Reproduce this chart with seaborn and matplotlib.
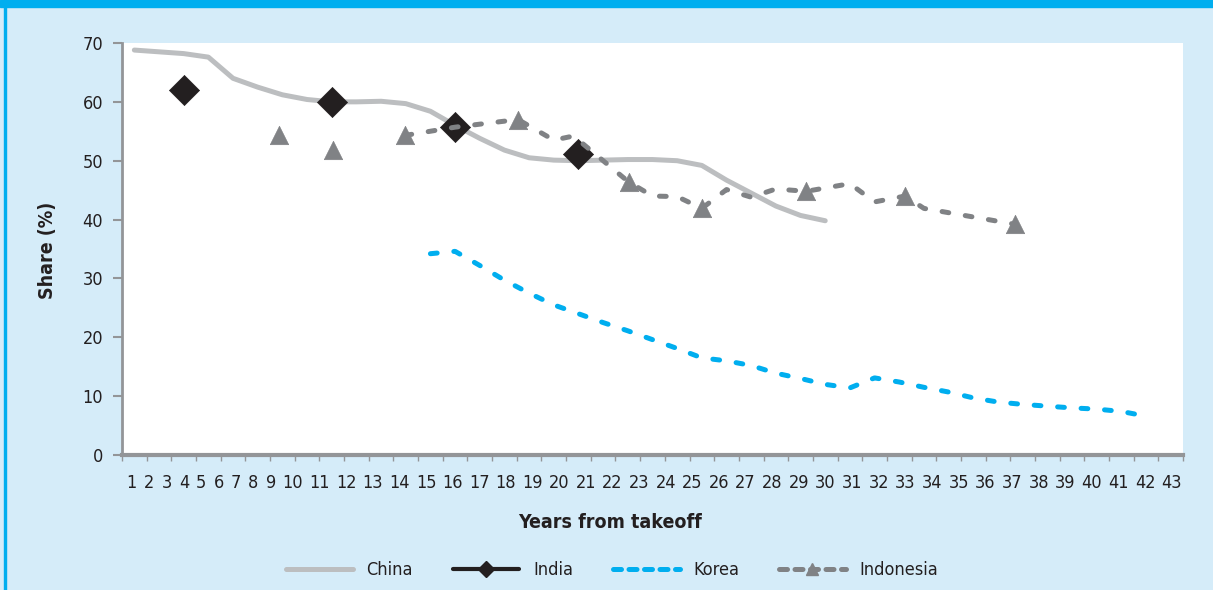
import numpy as np
import pandas as pd
import matplotlib
matplotlib.use("Agg")
import matplotlib.pyplot as plt
from matplotlib.lines import Line2D
from matplotlib.patches import Rectangle
import seaborn as sns

# Share of agriculture in employment (%), by years from takeoff
china_years = list(range(1, 30))
china_share = [68.8, 68.5, 68.2, 67.6, 64.0, 62.5, 61.2, 60.4, 60.0, 60.0,
               60.1, 59.7, 58.4, 56.0, 53.8, 51.8, 50.5, 50.1, 50.0, 50.1,
               50.2, 50.2, 50.0, 49.2, 46.7, 44.5, 42.3, 40.7, 39.8]

india_years = [3, 9, 14, 19]
india_share = [62.0, 59.9, 55.8, 51.1]

korea_years = list(range(13, 43))
korea_share = [34.2, 34.6, 32.2, 29.7, 27.5, 25.5, 24.0, 22.5, 21.1, 19.6,
               18.1, 16.5, 16.0, 15.2, 13.9, 13.0, 12.0, 11.4, 13.1, 12.4,
               11.5, 10.7, 9.7, 9.0, 8.6, 8.3, 8.0, 7.8, 7.4, 6.6]

indonesia_years = [6.85, 9.07, 11.97, 14.0, 16.55, 18.0, 18.8, 21.03, 22.0, 23.0,
                   24.0, 25.0, 26.0, 27.0, 28.23, 30.0, 31.0, 32.24, 33.0, 36.7]
indonesia_share = [54.3, 51.9, 54.3, 55.7, 57.0, 53.5, 54.2, 46.4, 44.0, 43.9,
                   41.9, 45.1, 43.8, 45.2, 44.8, 46.1, 43.0, 44.0, 41.9, 39.2]
# survey points shown with a marker
indonesia_marked = [1, 1, 1, 0, 1, 0, 0, 1, 0, 0,
                    1, 0, 0, 0, 1, 0, 0, 1, 0, 1]
# whether a point is joined to the previous one (early surveys stand alone)
indonesia_joined = [0, 0, 0, 1, 1, 1, 1, 1, 1, 1,
                    1, 1, 1, 1, 1, 1, 1, 1, 1, 1]

x_labels = [str(i) for i in range(1, 44)]
y_ticks = [0, 10, 20, 30, 40, 50, 60, 70]

series_names = ["China", "India", "Korea", "Indonesia"]

# ---------------------------------------------------------------- style
BG = "#D5ECF9"
FRAME = "#00AEEF"
AXIS_GREY = "#939598"
TEXT = "#231F20"
C_CHINA = "#BCBEC0"
C_INDIA = "#231F20"
C_KOREA = "#00AEEF"
C_INDO = "#808285"
DASH = (1.35, 3.35)

sns.set_theme(style="white")
plt.rcParams["font.family"] = ["DejaVu Sans"]
plt.rcParams["font.stretch"] = "condensed"
plt.rcParams["text.color"] = TEXT

fig = plt.figure(figsize=(12.13, 5.90), dpi=100, facecolor=BG)
ax = fig.add_axes([122 / 1213, 1 - 455 / 590, 1061 / 1213, 412 / 590])
ax.set_facecolor("white")

# frame decoration: thick band on top, thin rule on the left
fig.patches.append(Rectangle((0, 1 - 7 / 590), 1, 7 / 590, transform=fig.transFigure,
                             color=FRAME, zorder=0))
fig.patches.append(Rectangle((4 / 1213, 0), 2 / 1213, 1, transform=fig.transFigure,
                             color=FRAME, zorder=0))

# ---------------------------------------------------------------- data frames
china = pd.DataFrame({"year": china_years, "share": china_share})
india = pd.DataFrame({"year": india_years, "share": india_share})
korea = pd.DataFrame({"year": korea_years, "share": korea_share})
indo = pd.DataFrame({"year": indonesia_years, "share": indonesia_share,
                     "marked": indonesia_marked, "joined": indonesia_joined})
indo["run"] = (indo["joined"] == 0).cumsum()

# ---------------------------------------------------------------- series
sns.lineplot(data=china, x="year", y="share", color=C_CHINA, linewidth=3.6,
             estimator=None, sort=False, ax=ax, zorder=2,
             solid_capstyle="round", solid_joinstyle="round")

sns.scatterplot(data=india, x="year", y="share", marker="D", s=235,
                color=C_INDIA, edgecolor=C_INDIA, linewidth=0.5, ax=ax, zorder=3)

sns.lineplot(data=korea, x="year", y="share", color=C_KOREA, linewidth=3.6,
             estimator=None, sort=False, ax=ax, zorder=2)
ax.lines[-1].set_dashes(DASH)
ax.lines[-1].set_dash_capstyle("round")

for run_id, run in indo.groupby("run"):
    if len(run) > 1:
        sns.lineplot(data=run, x="year", y="share", color=C_INDO, linewidth=3.6,
                     estimator=None, sort=False, ax=ax, zorder=4)
        ax.lines[-1].set_dashes(DASH)
        ax.lines[-1].set_dash_capstyle("round")

sns.scatterplot(data=indo[indo["marked"] == 1], x="year", y="share", marker="^",
                s=175, color=C_INDO, edgecolor=C_INDO, linewidth=0.5, ax=ax, zorder=5)

# ---------------------------------------------------------------- axes
ax.set_xlim(0.5, 43.5)
ax.set_ylim(0, 70)
ax.set_xlabel("")
ax.set_ylabel("")

# category labels are set as one justified line of text
widths = np.array([len(s) for s in x_labels], dtype=float)
gap = 0.874
left_edges = np.concatenate([[0.0], np.cumsum(widths + gap)[:-1]])
centers = left_edges + widths / 2
label_pos = 0.9 + (centers - centers[0]) * (43.05 - 0.9) / (centers[-1] - centers[0])
ax.set_xticks(label_pos)
ax.set_xticklabels(x_labels)
ax.set_xticks(np.arange(0.5, 44, 1.0), minor=True)
ax.tick_params(axis="x", which="major", length=0, pad=14, labelsize=13, labelcolor=TEXT)
ax.tick_params(axis="x", which="minor", bottom=True, length=4, width=1.0,
               color=AXIS_GREY, direction="out")

ax.set_yticks(y_ticks)
ax.tick_params(axis="y", which="major", left=True, length=6.5, width=1.5,
               color=AXIS_GREY, pad=7, labelsize=13, labelcolor=TEXT, direction="out")

for side in ("top", "right"):
    ax.spines[side].set_visible(False)
ax.spines["left"].set_color(AXIS_GREY)
ax.spines["left"].set_linewidth(2.0)
ax.spines["bottom"].set_color(AXIS_GREY)
ax.spines["bottom"].set_linewidth(3.0)
ax.grid(False)

fig.text(47 / 1213, 1 - 250 / 590, "Share (%)", rotation=90, ha="center", va="center",
         fontsize=14, fontweight="bold", color=TEXT)
fig.text(610 / 1213, 1 - 522 / 590, "Years from takeoff", ha="center", va="center",
         fontsize=14, fontweight="bold", color=TEXT)

# ---------------------------------------------------------------- legend
handles = [
    Line2D([], [], color=C_CHINA, linewidth=3.6, solid_capstyle="round"),
    Line2D([], [], color=C_INDIA, linewidth=3.0, marker="D", markersize=8.5),
    Line2D([], [], color=C_KOREA, linewidth=3.6, dashes=(1.6, 1.5),
           dash_capstyle="round"),
    Line2D([], [], color=C_INDO, linewidth=3.6, dashes=(1.6, 1.5),
           dash_capstyle="round", marker="^", markersize=9),
]
fig.legend(handles, series_names, loc="center", bbox_to_anchor=(0.5045, 1 - 570 / 590),
           ncol=4, frameon=False, fontsize=13, handlelength=3.7, handletextpad=0.75,
           columnspacing=2.2)

fig.savefig("out.png", dpi=100, facecolor=BG)
